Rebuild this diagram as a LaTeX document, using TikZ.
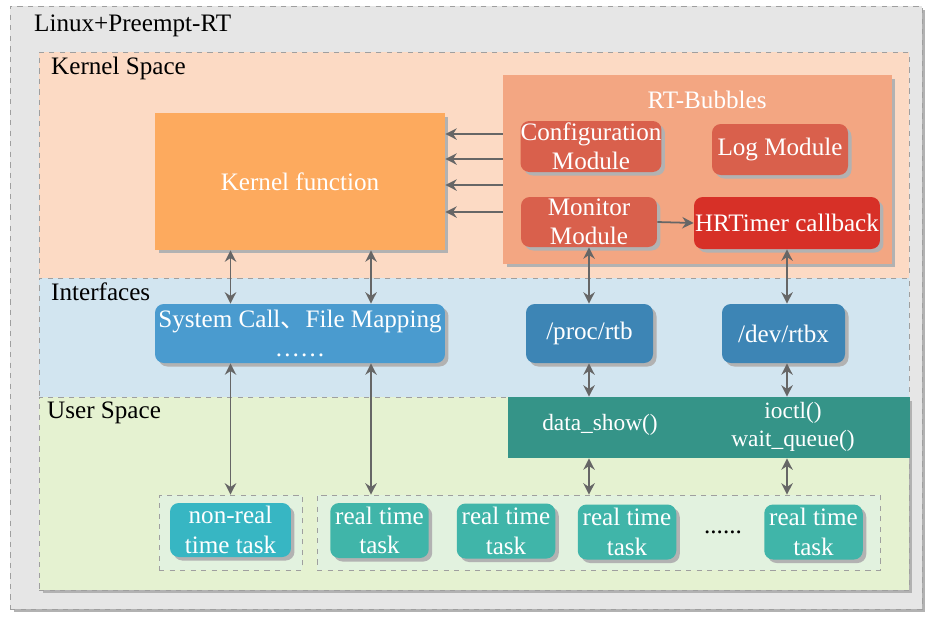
\documentclass[tikz,border=0pt]{standalone}
\usepackage{fontspec}
\setmainfont{Liberation Serif}
\newfontfamily\cjk{Noto Sans CJK SC}
\usetikzlibrary{arrows.meta,shadows}

\definecolor{osgray}{HTML}{E6E6E6}
\definecolor{kspace}{HTML}{FCDAC4}
\definecolor{ispace}{HTML}{D2E5F0}
\definecolor{uspace}{HTML}{E5F2D1}
\definecolor{kfuncc}{HTML}{FDAA5E}
\definecolor{bubblec}{HTML}{F3A682}
\definecolor{modc}{HTML}{D9604C}
\definecolor{timerc}{HTML}{D73027}
\definecolor{sysc}{HTML}{4A9BCF}
\definecolor{filec}{HTML}{3D85B5}
\definecolor{barc}{HTML}{359488}
\definecolor{nrtc}{HTML}{37B6C3}
\definecolor{rtc}{HTML}{40B5A9}
\definecolor{grpc}{HTML}{E2F2DF}
\definecolor{linkc}{HTML}{666666}

\begin{document}
\begin{tikzpicture}[x=0.02cm, y=-0.02cm,
    every node/.style={font=\fontsize{14.3}{16.8}\selectfont},
    shade box/.style={drop shadow={shadow xshift=0.07cm, shadow yshift=-0.07cm, fill=black!30, opacity=1}},
    layer/.style={rectangle, draw=gray!75, dashed, inner sep=0pt},
    block/.style={rectangle, text=white, align=center, inner sep=0pt, shade box},
    modbox/.style={block, rounded corners=5pt},
    taskbox/.style={modbox, fill=rtc, minimum width=1.97cm, minimum height=1.1cm},
    link/.style={draw=linkc, line width=1.1pt, {Stealth[length=6.5pt,width=6.5pt]}-{Stealth[length=6.5pt,width=6.5pt]}},
    onelink/.style={draw=linkc, line width=1pt, -{Stealth[length=6.5pt,width=6.5pt]}}]

    \useasboundingbox (0,0) rectangle (935,623);

    \node[layer, fill=osgray, minimum width=18.24cm, minimum height=12.06cm, shade box] (os) at (466,307.5) {};
    \node[layer, fill=kspace, minimum width=17.4cm, minimum height=4.52cm] (ks) at (474,165) {};
    \node[layer, fill=ispace, minimum width=17.4cm, minimum height=2.38cm] (is) at (474,337.5) {};
    \node[layer, fill=uspace, minimum width=17.4cm, minimum height=3.86cm, shade box] (us) at (474,493.5) {};

    \node[anchor=west] (oslabel) at (28,26) {Linux+Preempt-RT};
    \node[anchor=west] (kslabel) at (45,68) {Kernel Space};
    \node[anchor=west] (islabel) at (45,292) {Interfaces};
    \node[anchor=west] (uslabel) at (41,413) {User Space};

    \node[block, fill=kfuncc, minimum width=5.8cm, minimum height=2.74cm] (kfunc) at (300,181.5) {Kernel function};
    \node[block, fill=bubblec, minimum width=7.78cm, minimum height=3.78cm] (rtb) at (697.5,169.5) {};
    \node[text=white] (rtbtitle) at (707,100) {RT-Bubbles};
    \node[modbox, fill=modc, minimum width=2.76cm, minimum height=1.02cm] (conf) at (591,146.5) {Configuration\\Module};
    \node[modbox, fill=modc, minimum width=2.72cm, minimum height=1.02cm] (log) at (780,149.5) {Log Module};
    \node[modbox, fill=modc, minimum width=2.72cm, minimum height=1.0cm] (mon) at (589,222) {Monitor\\Module};
    \node[modbox, fill=timerc, minimum width=3.72cm, minimum height=1.04cm] (hrt) at (787,223) {HRTimer callback};

    \node[modbox, fill=sysc, minimum width=5.8cm, minimum height=1.18cm] (sys) at (300,333.5) {System Call{\cjk 、}File Mapping\\……};
    \node[modbox, fill=filec, minimum width=2.54cm, minimum height=1.18cm] (proc) at (589.5,333.5) {/proc/rtb};
    \node[modbox, fill=filec, minimum width=2.46cm, minimum height=1.18cm] (dev) at (783.5,333.5) {/dev/rtbx};

    \node[rectangle, fill=barc, minimum width=8.04cm, minimum height=1.22cm, inner sep=0pt] (bar) at (709,427.5) {};
    \node[text=white, font=\fontsize{13.3}{15.6}\selectfont] (show) at (600,425) {data\_show()};
    \node[text=white, align=center, font=\fontsize{13.3}{15.6}\selectfont] (ioctl) at (793,427) {ioctl()\\wait\_queue()};

    \node[layer, fill=grpc, minimum width=2.86cm, minimum height=1.5cm] (nrgrp) at (230.5,532.5) {};
    \node[layer, fill=grpc, minimum width=11.26cm, minimum height=1.5cm] (rtgrp) at (598.5,532.5) {};
    \node[modbox, fill=nrtc, minimum width=2.42cm, minimum height=1.08cm] (nrt) at (230.5,530) {non-real\\time task};
    \node[taskbox] (rt1) at (379.5,530.5) {real time\\task};
    \node[taskbox] (rt2) at (506,531) {real time\\task};
    \node[taskbox] (rt3) at (627,532) {real time\\task};
    \node[taskbox] (rt4) at (813.5,532) {real time\\task};
    \node (more) at (723,532) {......};

    \coordinate (colb) at (371,0);
    \foreach \y in {134,159,185,212}
        \draw[onelink] (rtb.west |- 0,\y) -- (kfunc.east |- 0,\y);
    \draw[onelink] (mon.east) -- (hrt.west);

    \draw[link] (kfunc.south -| nrt) -- (sys.north -| nrt);
    \draw[link] (kfunc.south -| colb) -- (sys.north -| colb);
    \draw[link] (sys.south -| nrt) -- (nrgrp.north);
    \draw[link] (sys.south -| colb) -- (rtgrp.north -| colb);
    \draw[link] (mon.south) -- (proc.north -| mon.south);
    \draw[link] (hrt.south) -- (dev.north -| hrt.south);
    \draw[link] (proc.south -| mon.south) -- (bar.north -| mon.south);
    \draw[link] (dev.south -| hrt.south) -- (bar.north -| hrt.south);
    \draw[link] (bar.south -| mon.south) -- (rtgrp.north -| mon.south);
    \draw[link] (bar.south -| hrt.south) -- (rtgrp.north -| hrt.south);
\end{tikzpicture}
\end{document}
